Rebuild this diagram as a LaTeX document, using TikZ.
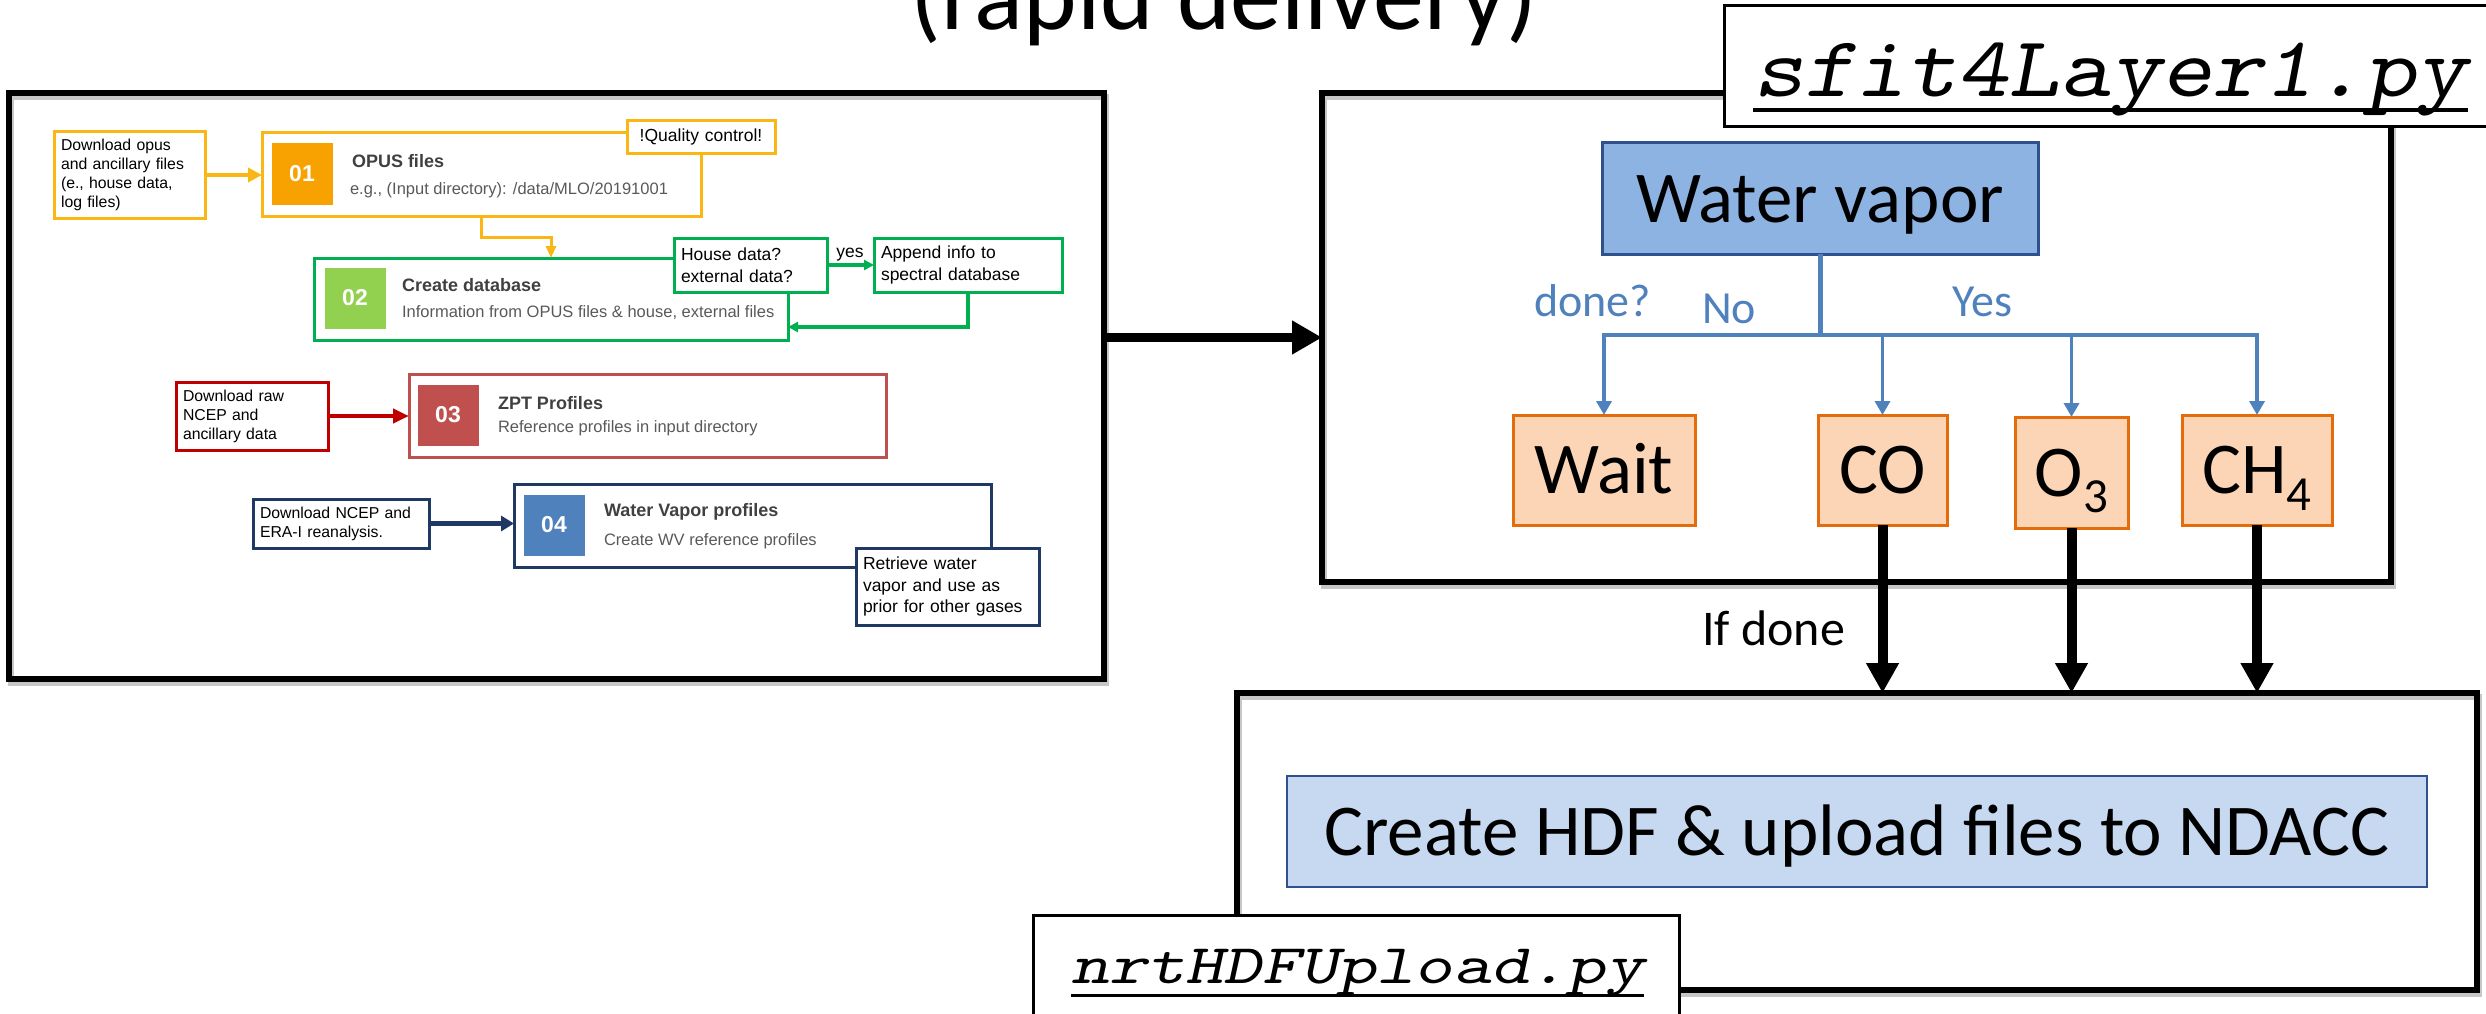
\documentclass[tikz,border=0pt]{standalone}
\usepackage{fontspec}
\setmainfont{Carlito}
\newfontfamily\arialfont{Liberation Sans}
\usetikzlibrary{arrows.meta,backgrounds}

\definecolor{orgline}{RGB}{250,182,20}
\definecolor{orgfill}{RGB}{247,162,0}
\definecolor{grnline}{RGB}{0,176,80}
\definecolor{grnfill}{RGB}{146,208,80}
\definecolor{redline}{RGB}{192,0,0}
\definecolor{rosline}{RGB}{192,80,77}
\definecolor{navyline}{RGB}{32,56,100}
\definecolor{bluefill}{RGB}{79,129,189}
\definecolor{titlegray}{RGB}{64,64,64}
\definecolor{subgray}{RGB}{89,89,89}
\definecolor{wvfill}{RGB}{141,179,226}
\definecolor{wvline}{RGB}{47,82,143}
\definecolor{treeblue}{RGB}{79,129,189}
\definecolor{gasfill}{RGB}{251,213,181}
\definecolor{gasline}{RGB}{228,108,10}
\definecolor{hdffill}{RGB}{198,217,241}

\tikzset{
  every node/.append style={outer sep=0pt},
  frame/.style={draw=black, line width=6pt, inner sep=0pt, anchor=north west},
  tag/.style={draw=black, line width=3pt, fill=white, inner sep=0pt, anchor=north west},
  codetxt/.style={anchor=base west, inner sep=0pt},
  lbox/.style={line width=3pt, fill=white, inner xsep=7pt, inner ysep=0pt,
    anchor=north west, align=left, font=\arialfont\fontsize{15.8}{19}\selectfont},
  stepbox/.style={line width=3pt, inner sep=0pt, anchor=north west},
  numsq/.style={minimum size=61pt, inner sep=0pt, text=white,
    font=\arialfont\bfseries\fontsize{23}{23}\selectfont},
  ttl/.style={anchor=west, inner sep=0pt, text=titlegray,
    font=\arialfont\bfseries\fontsize{18}{18}\selectfont},
  subttl/.style={anchor=west, inner sep=0pt, text=subgray,
    font=\arialfont\fontsize{16.5}{16.5}\selectfont},
  bigtext/.style={inner sep=0pt, text height=47pt, text depth=0pt,
    font=\fontsize{73}{80}\selectfont},
  gas/.style={bigtext, anchor=north west, draw=gasline, line width=3pt,
    fill=gasfill, minimum height=110pt},
  lbl/.style={anchor=base west, inner sep=0pt, text=treeblue,
    font=\fontsize{46}{50}\selectfont},
  branch/.style={treeblue, line width=3.5pt, -{Triangle[length=14pt,width=15pt]}},
  downarrow/.style={black, line width=10pt, -{Triangle[length=30pt,width=31pt]}},
  bigarrow/.style={black, line width=9pt, -{Triangle[length=30pt,width=32pt]}}
}

\begin{document}
\begin{tikzpicture}[x=1pt,y=-1pt]
\path[use as bounding box] (0,0) rectangle (2486,1014);

% heading
\node[anchor=base, inner sep=0pt, font=\fontsize{102}{110}\selectfont] (title) at (1224,30) {(rapid delivery)};

% the three outer frames
\node[frame, minimum width=1095pt, minimum height=586pt] (leftframe) at (9,93) {};
\node[frame, minimum width=1069pt, minimum height=489pt] (rightframe) at (1322,93) {};
\node[frame, minimum width=1240pt, minimum height=297pt] (hdfframe) at (1237,693) {};
\begin{scope}[on background layer]
  \foreach \f in {leftframe,rightframe,hdfframe}
    \draw[black!22, line width=6pt] ([shift={(2,4)}]\f.north west) rectangle ([shift={(2,4)}]\f.south east);
\end{scope}

% ---------- preprocessing flowchart ----------
% step 01
\node[lbox, draw=orgline, minimum width=151pt, minimum height=86pt, text width=137pt] (dlopus) at (54,132)
  {Download opus\\and ancillary files\\(e., house data,\\log files)};
\node[stepbox, draw=orgline, minimum width=439pt, minimum height=83pt] (opus) at (262,133) {};
\node[numsq, fill=orgfill] (n01) at (302,174) {01};
\node[ttl] (opusttl) at (352,161) {OPUS files};
\node[subttl] (opussub) at (350,190) {e.g., (Input directory): /data/MLO/20191001};
\node[lbox, draw=orgline, minimum width=148pt, minimum height=32pt, text width=134pt, align=center,
  font=\arialfont\fontsize{17.5}{20}\selectfont] (qc) at (627,121) {!Quality control!};
\draw[line width=4pt, orgline, -{Triangle[length=14pt,width=14pt]}] (dlopus.east) -- (dlopus.east -| opus.west);

% step 02
\node[stepbox, draw=grnline, minimum width=474pt, minimum height=82pt] (db) at (314,258) {};
\node[numsq, fill=grnfill] (n02) at (355,298) {02};
\node[ttl] (dbttl) at (402,285) {Create database};
\node[subttl] (dbsub) at (402,313) {Information from OPUS files \& house, external files};
\node[lbox, draw=grnline, minimum width=153pt, minimum height=54pt, text width=139pt,
  font=\arialfont\fontsize{17.5}{21.5}\selectfont] (house) at (674,238) {House data?\\external data?};
\node[lbox, draw=grnline, minimum width=188pt, minimum height=54pt, text width=174pt,
  font=\arialfont\fontsize{17.5}{21.5}\selectfont] (append) at (874,238) {Append info to\\spectral database};
\draw[line width=3pt, orgline, -{Triangle[length=12pt,width=10pt]}] (opus.south) -- ++(0,21) -| (db.north);
\draw[line width=3.5pt, grnline, -{Triangle[length=10pt,width=10pt]}] (house.east) -- (append.west);
\node[anchor=south, inner sep=0pt, font=\arialfont\fontsize{17.5}{20}\selectfont] (yeslbl) at (850,261) {yes};
\draw[line width=3.5pt, grnline, -{Triangle[length=10pt,width=10pt]}] (append.south) |- (db.east |- 0,327);

% step 03
\node[lbox, draw=redline, minimum width=152pt, minimum height=68pt, text width=138pt] (dlraw) at (176,382)
  {Download raw\\NCEP and\\ancillary data};
\node[stepbox, draw=rosline, minimum width=477pt, minimum height=83pt] (zpt) at (409,374) {};
\node[numsq, fill=rosline] (n03) at (448,415) {03};
\node[ttl] (zptttl) at (498,403) {ZPT Profiles};
\node[subttl] (zptsub) at (498,428) {Reference profiles in input directory};
\draw[line width=4.5pt, redline, -{Triangle[length=16pt,width=14pt]}] (dlraw.east) -- (dlraw.east -| zpt.west);

% step 04
\node[lbox, draw=navyline, minimum width=176pt, minimum height=49pt, text width=162pt] (dlncep) at (253,499)
  {Download NCEP and\\ERA-I reanalysis.};
\node[stepbox, draw=navyline, minimum width=477pt, minimum height=83pt] (wvp) at (514,484) {};
\node[numsq, fill=bluefill] (n04) at (554,525) {04};
\node[ttl] (wvpttl) at (604,512) {Water Vapor profiles};
\node[subttl] (wvpsub) at (604,541) {Create WV reference profiles};
\node[lbox, draw=navyline, minimum width=183pt, minimum height=77pt, text width=169pt,
  font=\arialfont\fontsize{17.5}{21.5}\selectfont] (retrieve) at (856,548)
  {Retrieve water\\vapor and use as\\prior for other gases};
\draw[line width=5pt, navyline, -{Triangle[length=13pt,width=15pt]}] (dlncep.east) -- (dlncep.east -| wvp.west);

% ---------- link to the retrieval stage ----------
\draw[bigarrow] (leftframe.east |- rightframe.west) -- (rightframe.west);

% ---------- retrieval stage ----------
\node[bigtext, anchor=north west, draw=wvline, line width=3pt, fill=wvfill,
  minimum width=436pt, minimum height=111pt] (wv) at (1602,143) {Water vapor};
\node[gas, minimum width=182pt] (wait) at (1513,415) {Wait};
\node[gas, minimum width=129pt] (co) at (1818,415) {CO};
\node[gas, minimum width=113pt, minimum height=111pt] (o3) at (2015,417)
  {O\raisebox{-0.23em}{\fontsize{49}{50}\selectfont 3}};
\node[gas, minimum width=150pt] (ch4) at (2182,415)
  {CH\raisebox{-0.23em}{\fontsize{49}{50}\selectfont 4}};

\coordinate (jn) at (wv.south |- 0,335);
\draw[treeblue, line width=5pt] (wv.south) -- (jn);
\draw[branch] (jn) -| (wait.north);
\draw[branch] (jn) -| (co.north);
\draw[branch] (jn) -| (o3.north);
\draw[branch] (jn) -| (ch4.north);
\node[lbl] (doneq) at (1534,316) {done?};
\node[lbl] (nolbl) at (1702,323) {No};
\node[lbl] (yeslbl2) at (1952,316) {Yes};

\node[tag, minimum width=772pt, minimum height=121pt] (sfitbox) at (1724,6) {};
\node[codetxt, font=\ttfamily\slshape\fontsize{86}{92}\selectfont] (sfittxt) at (1753,97)
  {\scalebox{1.131}[1]{sfit4Layer1.py}};
\draw[line width=4pt] ([yshift=-13pt]sfittxt.base west) -- ([yshift=-13pt]sfittxt.base east);

% ---------- upload stage ----------
\draw[downarrow] (co.south) -- (co.south |- hdfframe.north);
\draw[downarrow] (o3.south) -- (o3.south |- hdfframe.north);
\draw[downarrow] (ch4.south) -- (ch4.south |- hdfframe.north);
\node[anchor=base west, inner sep=0pt, font=\fontsize{50}{54}\selectfont] (ifdone) at (1702,645) {If done};

\node[bigtext, anchor=north west, draw=wvline, line width=2.5pt, fill=hdffill,
  minimum width=1140pt, minimum height=111pt] (hdf) at (1287,776) {Create HDF \& upload files to NDACC};

\node[tag, minimum width=646pt, minimum height=105pt] (nrtbox) at (1033,915) {};
\node[codetxt, font=\ttfamily\slshape\fontsize{56}{62}\selectfont] (nrttxt) at (1071,983)
  {\scalebox{1.30}[1]{nrtHDFUpload.py}};
\draw[line width=3pt] ([yshift=-12pt]nrttxt.base west) -- ([yshift=-12pt]nrttxt.base east);
\end{tikzpicture}
\end{document}
